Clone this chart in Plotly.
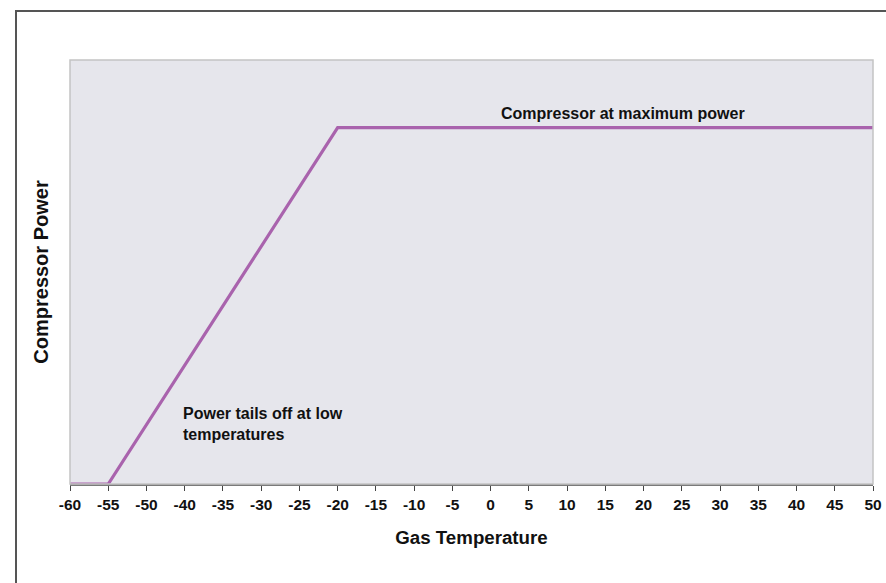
import plotly.graph_objects as go

tick_labels = ["-60", "-55", "-50", "-40", "-35", "-30", "-25", "-20", "-15", "-10", "-5",
               "0", "5", "10", "15", "20", "25", "30", "35", "40", "45", "50"]
line_x = ["-60", "-55", "-20", "50"]
line_power = [0, 0, 100, 100]

FONT = "Liberation Sans, Arial, sans-serif"

fig = go.Figure()
fig.add_trace(go.Scatter(
    x=line_x, y=line_power, mode="lines",
    line=dict(color="#a963ad", width=3.2),
    hoverinfo="skip", showlegend=False,
))

W, H = 886, 583
ml, mr, mt, mb = 70, 13, 60, 99
pw, ph = W - ml - mr, H - mt - mb

fig.update_layout(
    width=W, height=H,
    margin=dict(l=ml, r=mr, t=mt, b=mb, autoexpand=False),
    paper_bgcolor="white",
    plot_bgcolor="#e6e6ec",
    font=dict(family=FONT, color="#111111"),
    xaxis=dict(
        type="category", categoryorder="array", categoryarray=tick_labels,
        tickvals=tick_labels, ticktext=tick_labels,
        range=[0, len(tick_labels) - 1], automargin=False,
        showgrid=False, zeroline=False,
        showline=True, linecolor="#7a7a7a", linewidth=2,
        ticks="outside", ticklen=5, tickcolor="#444444", tickwidth=1,
        tickfont=dict(family=FONT, size=15.5, color="#111111", weight="bold"),
        title=dict(text="<b>Gas Temperature</b>", font=dict(family=FONT, size=18.7), standoff=19),
        mirror=False,
    ),
    yaxis=dict(
        range=[0, 119], showticklabels=False, showgrid=False, zeroline=False,
        showline=False, ticks="", automargin=False,
        title=dict(text="<b>Compressor Power</b>", font=dict(family=FONT, size=20), standoff=15),
    ),
    shapes=[
        dict(type="rect", xref="paper", yref="paper", x0=0, x1=1, y0=0, y1=1,
             line=dict(color="#c4c4c4", width=1.5), layer="above"),
        dict(type="rect", xref="paper", yref="paper",
             x0=(16 - ml) / pw, x1=(W + 20 - ml) / pw,
             y0=-(H + 20 - mt - ph) / ph, y1=1 + (mt - 11) / ph,
             line=dict(color="#555555", width=2)),
    ],
    annotations=[
        dict(text="<b>Compressor at maximum power</b>", x=(623 - ml) / pw, y=1 - (113 - mt) / ph,
             xref="paper", yref="paper", showarrow=False, xanchor="center", yanchor="middle",
             font=dict(family=FONT, size=16, color="#111111")),
        dict(text="<b>Power tails off at low<br>temperatures</b>", x=(181 - ml) / pw,
             y=1 - (424 - mt) / ph, xref="paper", yref="paper", showarrow=False,
             xanchor="left", yanchor="middle", align="left",
             font=dict(family=FONT, size=16, color="#111111")),
    ],
)

fig.write_html("out.html", config={"displayModeBar": False},
               post_script="document.body.style.margin='0';document.body.style.overflow='hidden';")
